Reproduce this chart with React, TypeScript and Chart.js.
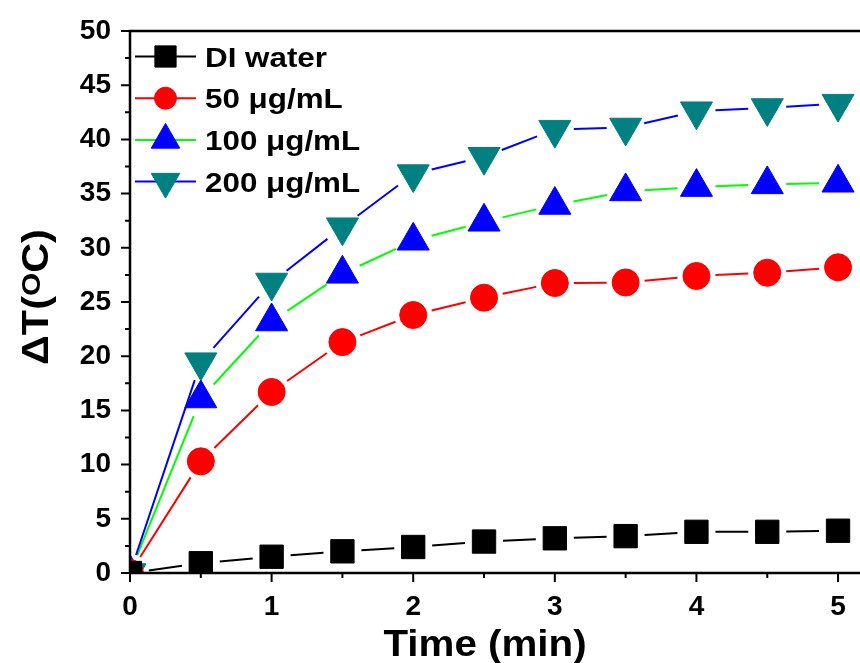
import React, { useEffect, useRef } from 'react';
import { Chart, registerables } from 'chart.js';
import { drawPoint } from 'chart.js/helpers';

Chart.register(...registerables);

const timeMin = [0, 0.5, 1, 1.5, 2, 2.5, 3, 3.5, 4, 4.5, 5];
const diWater = [0, 0.9, 1.5, 2.0, 2.4, 2.9, 3.2, 3.4, 3.8, 3.8, 3.9];
const conc50 = [0, 10.3, 16.7, 21.3, 23.8, 25.4, 26.75, 26.8, 27.4, 27.7, 28.2];
const conc100 = [0, 16.1, 23.2, 27.6, 30.65, 32.4, 33.95, 35.2, 35.6, 35.85, 36.0];
const conc200 = [0, 19.45, 26.8, 31.9, 36.8, 38.4, 40.9, 41.1, 42.6, 42.9, 43.3];

const seriesLabels = ['DI water', '50 \u03bcg/mL', '100 \u03bcg/mL', '200 \u03bcg/mL'];
const seriesValues = [diWater, conc50, conc100, conc200];
const lineColors = ['#000000', '#FF0000', '#00FF00', '#0000FF'];
const markerColors = ['#000000', '#FF0000', '#0000FF', '#008080'];
const markerStyles = ['rect', 'circle', 'triangle', 'triangle'];
const markerRotations = [0, 0, 0, 180];

const xMajorTicks = [0, 1, 2, 3, 4, 5];
const xMinorTicks = [0.5, 1.5, 2.5, 3.5, 4.5];
const yMajorTicks = [0, 5, 10, 15, 20, 25, 30, 35, 40, 45, 50];
const yMinorTicks = [2.5, 7.5, 12.5, 17.5, 22.5, 27.5, 32.5, 37.5, 42.5, 47.5];

const xTitle = 'Time (min)';
const yTitleMain = '\u0394T(';
const yTitleSup = 'O';
const yTitleEnd = 'C)';

const FONT = "'Liberation Sans', Arial, sans-serif";
const plotRadius: Record<string, number> = { rect: 16.5, circle: 13.5, triangle: 18.5 };
const legendRadius: Record<string, number> = { rect: 15, circle: 11, triangle: 16.5 };

const segmentsPlugin = {
  id: 'segments',
  beforeDatasetsDraw(chart: any) {
    const ctx = chart.ctx;
    const a = chart.chartArea;
    const gap = 19;
    ctx.save();
    ctx.beginPath();
    ctx.rect(a.left, a.top, a.right - a.left, a.bottom - a.top);
    ctx.clip();
    chart.data.datasets.forEach((ds: any, i: number) => {
      const pts = chart.getDatasetMeta(i).data;
      ctx.strokeStyle = lineColors[i];
      ctx.lineWidth = 2;
      ctx.beginPath();
      for (let k = 0; k < pts.length - 1; k++) {
        const p0 = pts[k];
        const p1 = pts[k + 1];
        const dx = p1.x - p0.x;
        const dy = p1.y - p0.y;
        const len = Math.sqrt(dx * dx + dy * dy);
        if (len <= 2 * gap) continue;
        const ux = dx / len;
        const uy = dy / len;
        ctx.moveTo(p0.x + ux * gap, p0.y + uy * gap);
        ctx.lineTo(p1.x - ux * gap, p1.y - uy * gap);
      }
      ctx.stroke();
    });
    ctx.restore();
  },
};

const framePlugin = {
  id: 'frame',
  afterDraw(chart: any) {
    const ctx = chart.ctx;
    const a = chart.chartArea;
    const xs = chart.scales.x;
    const ys = chart.scales.y;
    ctx.save();
    ctx.strokeStyle = '#000';
    ctx.lineWidth = 2.5;
    ctx.beginPath();
    ctx.moveTo(a.left, a.top);
    ctx.lineTo(a.left, a.bottom);
    ctx.moveTo(a.left - 1.25, a.bottom);
    ctx.lineTo(a.right, a.bottom);
    ctx.moveTo(a.left - 1.25, a.top);
    ctx.lineTo(a.right, a.top);
    ctx.stroke();

    ctx.lineWidth = 2;
    ctx.beginPath();
    yMajorTicks.forEach((v) => {
      const y = ys.getPixelForValue(v);
      ctx.moveTo(a.left - 9, y);
      ctx.lineTo(a.left, y);
    });
    yMinorTicks.forEach((v) => {
      const y = ys.getPixelForValue(v);
      ctx.moveTo(a.left - 5, y);
      ctx.lineTo(a.left, y);
    });
    xMajorTicks.forEach((v) => {
      const x = xs.getPixelForValue(v);
      ctx.moveTo(x, a.bottom);
      ctx.lineTo(x, a.bottom + 9);
    });
    xMinorTicks.forEach((v) => {
      const x = xs.getPixelForValue(v);
      ctx.moveTo(x, a.bottom);
      ctx.lineTo(x, a.bottom + 5);
    });
    ctx.stroke();

    // legend
    const rowY0 = 56.5;
    const rowStep = 41.7;
    seriesLabels.forEach((label, i) => {
      const y = rowY0 + i * rowStep;
      ctx.strokeStyle = lineColors[i];
      ctx.lineWidth = 2;
      ctx.beginPath();
      ctx.moveTo(135, y);
      ctx.lineTo(196, y);
      ctx.stroke();
      ctx.fillStyle = markerColors[i];
      ctx.strokeStyle = markerColors[i];
      ctx.lineWidth = 1;
      drawPoint(ctx, {
        pointStyle: markerStyles[i],
        rotation: markerRotations[i],
        radius: legendRadius[markerStyles[i]],
        borderWidth: 1,
      } as any, 165.5, y);
      ctx.save();
      ctx.translate(205, y + 10);
      ctx.scale(1.12, 1);
      ctx.fillStyle = '#000';
      ctx.font = `bold 28px ${FONT}`;
      ctx.textAlign = 'left';
      ctx.textBaseline = 'alphabetic';
      ctx.fillText(label, 0, 0);
      ctx.restore();
    });

    // x title
    ctx.save();
    ctx.translate(485, 656);
    ctx.scale(1.12, 1);
    ctx.fillStyle = '#000';
    ctx.font = `bold 36px ${FONT}`;
    ctx.textAlign = 'center';
    ctx.textBaseline = 'alphabetic';
    ctx.fillText(xTitle, 0, 0);
    ctx.restore();

    // y title
    ctx.save();
    ctx.translate(48, 297);
    ctx.rotate(-Math.PI / 2);
    ctx.scale(1.15, 1);
    ctx.fillStyle = '#000';
    ctx.textAlign = 'left';
    ctx.textBaseline = 'alphabetic';
    const big = `bold 36px ${FONT}`;
    const small = `bold 26px ${FONT}`;
    ctx.font = big;
    const w1 = ctx.measureText(yTitleMain).width;
    const w3 = ctx.measureText(yTitleEnd).width;
    ctx.font = small;
    const w2 = ctx.measureText(yTitleSup).width;
    let x = -(w1 + w2 + w3) / 2;
    ctx.font = big;
    ctx.fillText(yTitleMain, x, 0);
    x += w1;
    ctx.font = small;
    ctx.fillText(yTitleSup, x, -8);
    x += w2;
    ctx.font = big;
    ctx.fillText(yTitleEnd, x, 0);
    ctx.restore();

    ctx.restore();
  },
};

export default function App() {
  const canvasRef = useRef<HTMLCanvasElement | null>(null);

  useEffect(() => {
    if (!canvasRef.current) return;
    const datasets = seriesLabels.map((label, i) => ({
      label,
      data: timeMin.map((t, k) => ({ x: t, y: seriesValues[i][k] })),
      showLine: false,
      pointStyle: markerStyles[i],
      pointRotation: markerRotations[i],
      pointRadius: plotRadius[markerStyles[i]],
      pointHoverRadius: plotRadius[markerStyles[i]],
      pointBackgroundColor: markerColors[i],
      pointBorderColor: markerColors[i],
      pointBorderWidth: 1,
      borderColor: lineColors[i],
      clip: 0,
    }));

    const chart = new Chart(canvasRef.current, {
      type: 'scatter',
      data: { datasets },
      options: {
        animation: false,
        responsive: true,
        maintainAspectRatio: false,
        events: [],
        layout: { autoPadding: false, padding: { top: 31, left: 0, right: 0, bottom: 0 } },
        plugins: {
          legend: { display: false },
          tooltip: { enabled: false },
          title: { display: false },
        },
        scales: {
          x: {
            type: 'linear',
            min: 0,
            max: 5.155,
            grid: { display: false, drawTicks: false },
            border: { display: false },
            ticks: {
              color: '#000',
              padding: 17,
              font: { family: FONT, size: 28, weight: 'bold' },
              maxRotation: 0,
              autoSkip: false,
            },
            afterBuildTicks: (s: any) => {
              s.ticks = xMajorTicks.map((v) => ({ value: v }));
            },
            afterFit: (s: any) => {
              s.height = 90;
              s.paddingLeft = 0;
              s.paddingRight = 0;
            },
          },
          y: {
            type: 'linear',
            min: 0,
            max: 50,
            grid: { display: false, drawTicks: false },
            border: { display: false },
            ticks: {
              color: '#000',
              padding: 19,
              font: { family: FONT, size: 28, weight: 'bold' },
              autoSkip: false,
            },
            afterBuildTicks: (s: any) => {
              s.ticks = yMajorTicks.map((v) => ({ value: v }));
            },
            afterFit: (s: any) => {
              s.width = 130;
              s.paddingTop = 0;
              s.paddingBottom = 0;
            },
          },
        },
      } as any,
      plugins: [segmentsPlugin, framePlugin],
    });
    return () => chart.destroy();
  }, []);

  return (
    <div style={{ position: 'absolute', left: 0, top: 0, width: 860, height: 663, background: '#fff' }}>
      <canvas ref={canvasRef} />
    </div>
  );
}
